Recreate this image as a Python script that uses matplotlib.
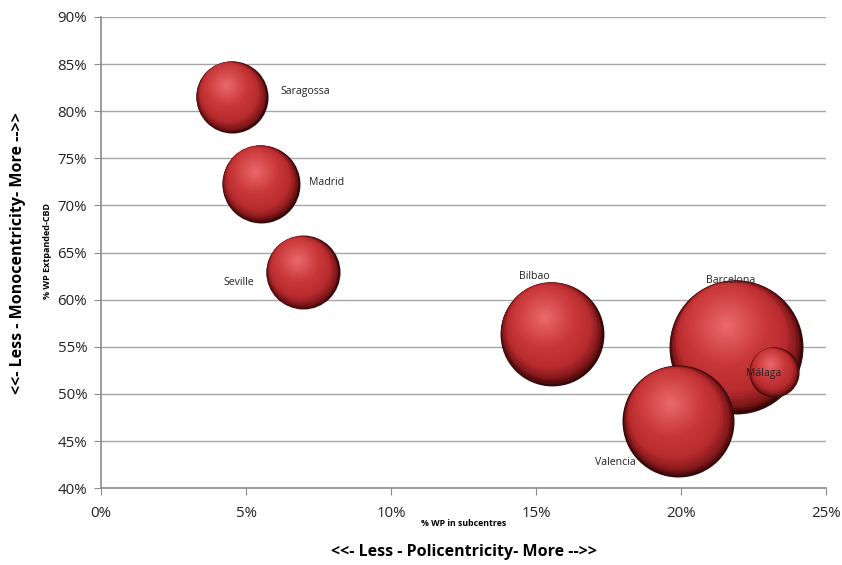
import numpy as np
import matplotlib
matplotlib.use("Agg")
import matplotlib.pyplot as plt
from matplotlib.transforms import ScaledTranslation
from matplotlib.ticker import PercentFormatter

# ---- data ----
cities = ["Barcelona", "Valencia", "Bilbao", "Madrid", "Seville", "Saragossa", "Málaga"]
wp_subcentres = [21.9, 19.9, 15.55, 5.5, 6.95, 4.5, 23.2]       # % WP in subcentres
wp_cbd = [55.0, 47.1, 56.4, 72.3, 62.9, 81.5, 52.3]             # % WP Extpanded-CBD
bubble_size = [449, 314, 270, 152, 137, 130, 63]
x_ticks = [0, 5, 10, 15, 20, 25]
y_ticks = [40, 45, 50, 55, 60, 65, 70, 75, 80, 85, 90]

# label offsets (points) relative to bubble centre
label_offsets = {
    "Barcelona": (-22, 48), "Valencia": (-60, -30), "Bilbao": (-24, 41),
    "Madrid": (35, 1), "Seville": (-57, -7), "Saragossa": (35, 4),
    "Málaga": (-20, -1),
}

DPI = 100
fig = plt.figure(figsize=(8.42, 5.65), dpi=DPI)
ax = fig.add_axes([0.120, 0.136, 0.861, 0.834])
ax.set_xlim(0, 25)
ax.set_ylim(40, 90)

# colour ramp for sphere shading
stops_t = [0.0, 0.06, 0.18, 0.45, 1.0]
stops_c = np.array([
    [0.22, 0.03, 0.03],
    [0.50, 0.09, 0.10],
    [0.72, 0.17, 0.18],
    [0.80, 0.23, 0.24],
    [0.92, 0.42, 0.43],
])

def ramp(t):
    return [np.interp(t, stops_t, stops_c[:, i]) for i in range(3)]

direction = np.array([-0.42, 0.91])
direction = direction / np.linalg.norm(direction)
N = 40
for i, (city, x, y, sz) in enumerate(zip(cities, wp_subcentres, wp_cbd, bubble_size)):
    r_px = np.sqrt(sz) * 3.16
    base_z = 3 + i
    for k in range(N):
        t = k / N
        rr = r_px * (1 - t)
        mag = min(0.9 * t, 0.36) * r_px
        hx, hy = direction * mag
        tr = ax.transData + ScaledTranslation(hx / DPI, hy / DPI, fig.dpi_scale_trans)
        d_pt = 2 * rr * 72 / DPI
        ax.scatter([x], [y], s=d_pt ** 2, color=ramp(t), linewidths=0,
                   transform=tr, zorder=base_z + k / (N + 1))
    dx, dy = label_offsets[city]
    ax.annotate(city, (x, y), xytext=(dx, dy), textcoords="offset points",
                fontsize=7.6, family="Open Sans", color="#222222",
                ha="left", va="center", zorder=20)

# axes styling
ax.set_xticks(x_ticks)
ax.set_yticks(y_ticks)
ax.xaxis.set_major_formatter(PercentFormatter(decimals=0))
ax.yaxis.set_major_formatter(PercentFormatter(decimals=0))
ax.grid(axis="y", color="#a6a6a6", linewidth=1.0, zorder=0)
ax.set_axisbelow(True)
for s in ["top", "right"]:
    ax.spines[s].set_visible(False)
for s in ["left", "bottom"]:
    ax.spines[s].set_color("#8c8c8c")
    ax.spines[s].set_linewidth(1.2)
ax.tick_params(axis="both", direction="out", length=5, color="#8c8c8c",
               labelsize=10.8, labelcolor="#222222", pad=5)
for lbl in ax.get_xticklabels() + ax.get_yticklabels():
    lbl.set_family("Open Sans")
ax.tick_params(axis="x", pad=8)

cx = 0.5 * (0.120 + 0.981)
fig.text(cx, 1 - 523 / 565, "% WP in subcentres", ha="center", va="center",
         fontsize=6.3, fontweight="bold", family="Open Sans")
fig.text(cx, 1 - 552 / 565, "<<- Less - Policentricity- More -->>",
         ha="center", va="center", fontsize=11.5, fontweight="bold", family="Open Sans")
fig.text(48 / 842, 1 - 251 / 565, "% WP Extpanded-CBD", rotation=90, ha="center", va="center",
         fontsize=6.5, fontweight="bold", family="Open Sans")
fig.text(18 / 842, 1 - 253 / 565, "<<- Less - Monocentricity- More -->>", rotation=90,
         ha="center", va="center", fontsize=11.5, fontweight="bold", family="Open Sans")

fig.savefig("out.png", dpi=DPI)
